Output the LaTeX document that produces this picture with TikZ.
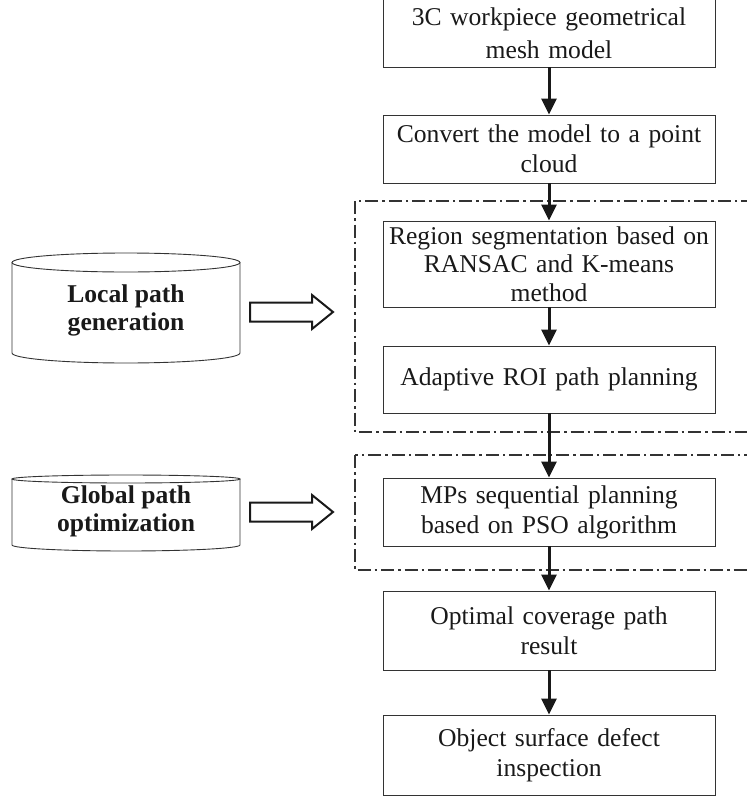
\documentclass[tikz,border=0pt]{standalone}
\usepackage{fontspec}
\setmainfont{Liberation Serif}
\usetikzlibrary{arrows.meta}
\begin{document}
\begin{tikzpicture}[x=1pt,y=-1pt,
  flowbox/.style={draw=black!80, line width=0.9pt, minimum width=332pt, text width=326pt, inner sep=3pt, align=center, font=\fontsize{25.6}{30}\selectfont, text=black!90},
  flowarrow/.style={draw=black!90, line width=3pt, -{Triangle[length=16pt,width=15pt]}},
  groupbox/.style={draw=black!80, line width=1.3pt, dash pattern=on 13pt off 4pt on 2.5pt off 4pt},
  cyl/.style={draw=black!80, line width=0.9pt},
  cyltext/.style={align=center, font=\bfseries\fontsize{25.6}{28}\selectfont, text=black!90},
  hollow/.style={draw=black!90, line width=2pt, line join=miter}]
\useasboundingbox (0,0) rectangle (747,798);
% group boxes
\draw[groupbox] (355,201) rectangle (770,432);
\draw[groupbox] (355,455) rectangle (770,570);
% flow boxes
\node[flowbox, minimum height=68pt, font=\fontsize{25.6}{33}\selectfont] (b1) at (549,33) {3C workpiece geometrical\\mesh model};
\node[flowbox, minimum height=68pt] (b2) at (549,149) {Convert the model to a point\\cloud};
\node[flowbox, minimum height=86pt, font=\fontsize{25.6}{28.5}\selectfont] (b3) at (549,264) {Region segmentation based on\\RANSAC and K-means\\method};
\node[flowbox, minimum height=67pt] (b4) at (549,379.5) {Adaptive ROI path planning};
\node[flowbox, minimum height=68pt] (b5) at (549,512) {MPs sequential planning\\based on PSO algorithm};
\node[flowbox, minimum height=79pt] (b6) at (549,630.5) {Optimal coverage path\\result};
\node[flowbox, minimum height=80pt] (b7) at (549,755) {Object surface defect\\inspection};
% connectors
\draw[flowarrow] (b1.south) -- (b2.north);
\draw[flowarrow] (b2.south) -- (b3.north);
\draw[flowarrow] (b3.south) -- (b4.north);
\draw[flowarrow] (b4.south) -- (b5.north);
\draw[flowarrow] (b5.south) -- (b6.north);
\draw[flowarrow] (b6.south) -- (b7.north);
% cylinder 1
\draw[cyl] (12,262.5) -- (12,353) arc[start angle=180, end angle=360, x radius=114pt, y radius=10pt] -- (240,262.5);
\draw[cyl] (126,262.5) ellipse[x radius=114pt, y radius=9.5pt];
\node[cyltext] (lpg) at (126,310) {Local path\\generation};
% cylinder 2
\draw[cyl] (12,479) -- (12,545) arc[start angle=180, end angle=360, x radius=114pt, y radius=6pt] -- (240,479);
\draw[cyl] (126,479) ellipse[x radius=114pt, y radius=4pt];
\node[cyltext] (gpo) at (126,511) {Global path\\optimization};
% hollow arrows
\draw[hollow] (250,302.5) -- (312,302.5) -- (312,295) -- (333,312) -- (312,329) -- (312,321.5) -- (250,321.5) -- cycle;
\draw[hollow] (250,502.5) -- (312,502.5) -- (312,495) -- (333,512) -- (312,529) -- (312,521.5) -- (250,521.5) -- cycle;
\end{tikzpicture}
\end{document}
